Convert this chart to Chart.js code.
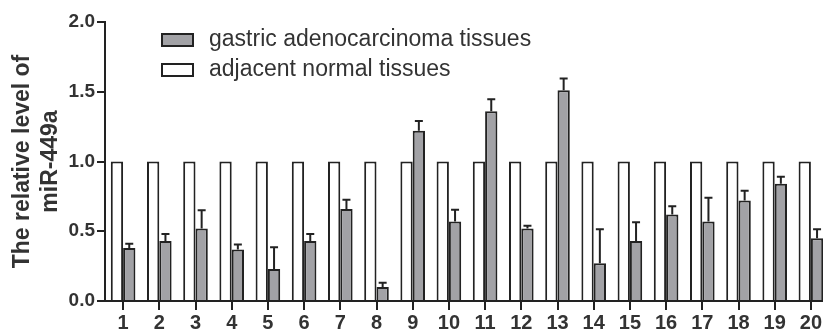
<!DOCTYPE html>
<html>
<head>
  <title>miR-449a relative level</title>
  <script src="https://cdn.jsdelivr.net/npm/chart.js"></script>
  <style>
    body { margin: 0; background: #fff; }
    .frame { width: 823px; height: 329px; overflow: hidden; }
    .wrap { width: 840px; height: 329px; }
  </style>
</head>
<body>
  <div class="frame"><div class="wrap"><canvas id="mirChart"></canvas></div></div>

  <script>
    const samples = ['1', '2', '3', '4', '5', '6', '7', '8', '9', '10',
                     '11', '12', '13', '14', '15', '16', '17', '18', '19', '20'];
    const normalLevel = [1.0, 1.0, 1.0, 1.0, 1.0, 1.0, 1.0, 1.0, 1.0, 1.0,
                         1.0, 1.0, 1.0, 1.0, 1.0, 1.0, 1.0, 1.0, 1.0, 1.0];
    const tumourLevel = [0.38, 0.43, 0.52, 0.37, 0.23, 0.43, 0.66, 0.10, 1.22, 0.57,
                         1.36, 0.52, 1.51, 0.27, 0.43, 0.62, 0.57, 0.72, 0.84, 0.45];
    const tumourError = [0.03, 0.05, 0.13, 0.035, 0.155, 0.05, 0.065, 0.03, 0.07, 0.085,
                         0.087, 0.02, 0.085, 0.245, 0.135, 0.06, 0.17, 0.07, 0.05, 0.065];
    const yTicks = [0, 0.5, 1.0, 1.5, 2.0];

    const ink = '#222';
    const textColor = '#333';
    const fontFamily = '"Liberation Sans", Arial, sans-serif';

    // upward-only error bars on the tumour bars
    const errorBars = {
      id: 'errorBars',
      afterDatasetsDraw(chart) {
        const ctx = chart.ctx;
        const y = chart.scales.y;
        const meta = chart.getDatasetMeta(1);
        ctx.save();
        ctx.strokeStyle = ink;
        ctx.lineWidth = 2;
        meta.data.forEach((bar, i) => {
          const top = y.getPixelForValue(tumourLevel[i] + tumourError[i]);
          ctx.beginPath();
          ctx.moveTo(bar.x, bar.y);
          ctx.lineTo(bar.x, top);
          ctx.moveTo(bar.x - 4, top);
          ctx.lineTo(bar.x + 4, top);
          ctx.stroke();
        });
        ctx.restore();
      }
    };

    // legend sits inside the plot, grey series first
    const boxLegend = {
      id: 'boxLegend',
      afterDraw(chart) {
        const ctx = chart.ctx;
        const order = [1, 0];
        ctx.save();
        ctx.font = '23px ' + fontFamily;
        ctx.textBaseline = 'middle';
        order.forEach((di, row) => {
          const ds = chart.data.datasets[di];
          const cy = 40 + row * 30;
          ctx.fillStyle = ds.backgroundColor;
          ctx.strokeStyle = ink;
          ctx.lineWidth = 2;
          ctx.fillRect(162, cy - 6, 31, 12);
          ctx.strokeRect(162, cy - 6, 31, 12);
          ctx.fillStyle = textColor;
          ctx.fillText(ds.label, 209, cy);
        });
        ctx.restore();
      }
    };

    const ctx = document.getElementById('mirChart').getContext('2d');
    new Chart(ctx, {
      type: 'bar',
      data: {
        labels: samples,
        datasets: [
          { label: 'adjacent normal tissues', data: normalLevel,
            backgroundColor: '#ffffff', borderColor: ink, borderWidth: 2 },
          { label: 'gastric adenocarcinoma tissues', data: tumourLevel,
            backgroundColor: '#a2a2a6', borderColor: ink, borderWidth: 2 }
        ]
      },
      options: {
        responsive: true,
        maintainAspectRatio: false,
        animation: false,
        layout: { padding: { top: 22, right: 11, left: 0, bottom: 0 } },
        datasets: { bar: { categoryPercentage: 0.68, barPercentage: 1.0 } },
        plugins: { legend: { display: false }, tooltip: { enabled: false } },
        scales: {
          x: {
            offset: true,
            afterFit: s => { s.height = 28; },
            border: { color: ink, width: 2 },
            grid: { offset: false, drawOnChartArea: false, drawTicks: true,
                    tickLength: 9, color: ink, lineWidth: 2 },
            ticks: { color: textColor, padding: 1, maxRotation: 0,
                     font: { family: fontFamily, size: 20, weight: 'bold' } }
          },
          y: {
            min: 0,
            max: 2,
            afterFit: s => { s.width = 105; },
            afterBuildTicks: s => { s.ticks = yTicks.map(v => ({ value: v })); },
            border: { color: ink, width: 2 },
            grid: { drawOnChartArea: false, drawTicks: true,
                    tickLength: 8, color: ink, lineWidth: 2 },
            ticks: { color: textColor, padding: 2,
                     callback: v => Number(v).toFixed(1),
                     font: { family: fontFamily, size: 19, weight: 'bold' } },
            title: {
              display: true,
              text: ['The relative level of', 'miR-449a'],
              color: textColor,
              padding: { top: 9 },
              font: { family: fontFamily, size: 23, weight: 'bold', lineHeight: 1.2 }
            }
          }
        }
      },
      plugins: [errorBars, boxLegend]
    });
  </script>
</body>
</html>
